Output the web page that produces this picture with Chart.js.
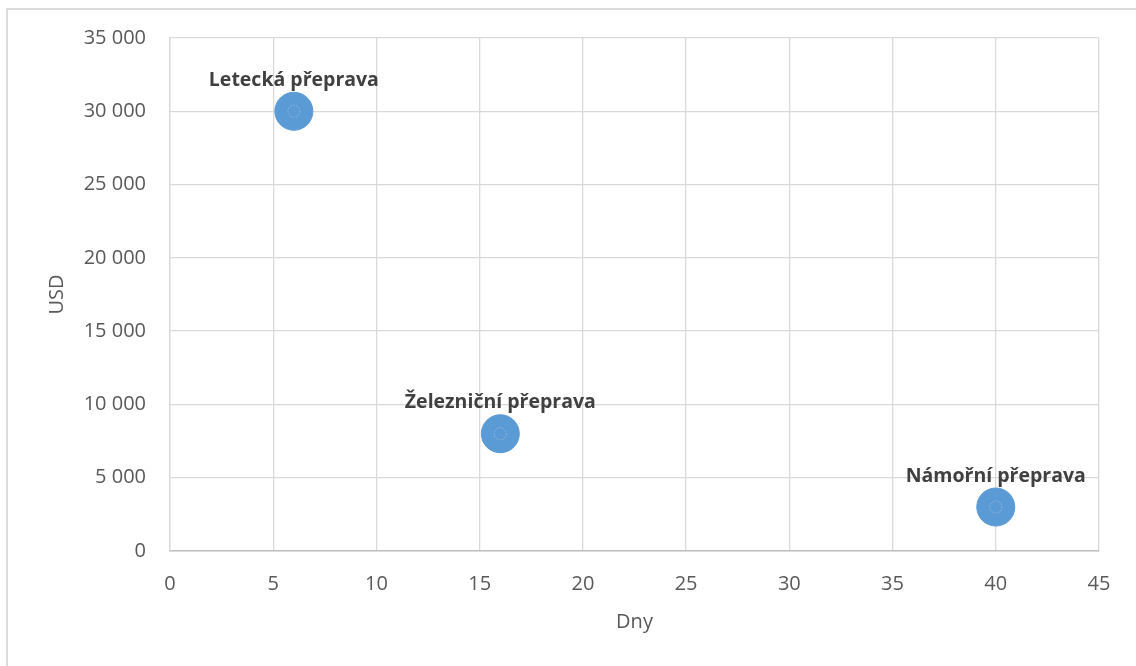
<!DOCTYPE html>
<html lang="cs">
<head>
<meta charset="utf-8">
<title>Doprava: cena a doba</title>
<script src="https://cdn.jsdelivr.net/npm/chart.js@4/dist/chart.umd.min.js"></script>
<style>
  html, body { margin: 0; padding: 0; background: #ffffff; }
  #wrap { position: relative; width: 1136px; height: 666px; }
</style>
</head>
<body>
<div id="wrap"><canvas id="chart" width="1136" height="666"></canvas></div>
<script>
// Druhy přepravy, doba (dny) a cena (USD)
const modes = ['Letecká přeprava', 'Železniční přeprava', 'Námořní přeprava'];
const days = [6, 16, 40];
const costUsd = [30000, 8000, 3000];

// Osy
const xMin = 0, xMax = 45, xStep = 5;
const yMin = 0, yMax = 35000, yStep = 5000;
const xTitle = 'Dny';
const yTitle = 'USD';

const bubbleColor = '#5b9bd5';
const gridColor = '#d9d9d9';
const tickColor = '#595959';
const labelColor = '#404040';

const fmt = v => String(v).replace(/\B(?=(\d{3})+(?!\d))/g, '\u00a0');

// Rámeček grafu
const framePlugin = {
  id: 'frame',
  beforeDraw(chart) {
    const ctx = chart.ctx;
    ctx.save();
    ctx.fillStyle = '#ffffff';
    ctx.fillRect(0, 0, chart.width, chart.height);
    ctx.strokeStyle = '#dcdcdc';
    ctx.lineWidth = 2;
    ctx.beginPath();
    ctx.moveTo(7, chart.height + 5);
    ctx.lineTo(7, 9);
    ctx.lineTo(chart.width + 5, 9);
    ctx.stroke();
    ctx.restore();
  }
};

// Popisky bublin a jemný vnitřní kroužek
const bubbleLabels = {
  id: 'bubbleLabels',
  afterDatasetsDraw(chart) {
    const ctx = chart.ctx;
    const meta = chart.getDatasetMeta(0);
    ctx.save();
    meta.data.forEach((el, i) => {
      ctx.beginPath();
      ctx.setLineDash([1.5, 1.5]);
      ctx.strokeStyle = 'rgba(255,255,255,0.28)';
      ctx.lineWidth = 1;
      ctx.arc(el.x, el.y, 6, 0, Math.PI * 2);
      ctx.stroke();
      ctx.setLineDash([]);
      ctx.font = 'bold 19.5px "Open Sans"';
      ctx.fillStyle = labelColor;
      ctx.textAlign = 'center';
      ctx.textBaseline = 'middle';
      ctx.fillText(modes[i], el.x, el.y - 31);
    });
    ctx.restore();
  }
};

new Chart(document.getElementById('chart'), {
  type: 'bubble',
  data: {
    datasets: [{
      label: 'Přeprava',
      data: days.map((d, i) => ({ x: d, y: costUsd[i], r: 19 })),
      backgroundColor: bubbleColor,
      borderColor: bubbleColor,
      borderWidth: 1
    }]
  },
  options: {
    responsive: false,
    animation: false,
    events: [],
    layout: { padding: { top: 38, right: 37, left: 0, bottom: 0 } },
    plugins: { legend: { display: false }, tooltip: { enabled: false } },
    scales: {
      x: {
        type: 'linear',
        min: xMin, max: xMax,
        afterFit(s) { s.height = 115; },
        ticks: { stepSize: xStep, color: tickColor, font: { family: 'Open Sans', size: 20 }, padding: 21, maxRotation: 0 },
        grid: { color: gridColor, drawTicks: false, lineWidth: 1.3 },
        border: { color: '#bfbfbf', width: 1.5 },
        title: { display: true, text: xTitle, color: tickColor, font: { family: 'Open Sans', size: 20 }, padding: { top: 0, bottom: 32 } }
      },
      y: {
        type: 'linear',
        min: yMin, max: yMax,
        afterFit(s) { s.width = 170; },
        ticks: { stepSize: yStep, color: tickColor, font: { family: 'Open Sans', size: 20 }, padding: 24, callback: v => fmt(v) },
        grid: { color: gridColor, drawTicks: false, lineWidth: 1.3 },
        border: { color: gridColor, width: 1.3 },
        title: { display: true, text: yTitle, color: tickColor, font: { family: 'Open Sans', size: 20 }, padding: { top: 45, bottom: 0 } }
      }
    }
  },
  plugins: [framePlugin, bubbleLabels]
});
</script>
</body>
</html>
